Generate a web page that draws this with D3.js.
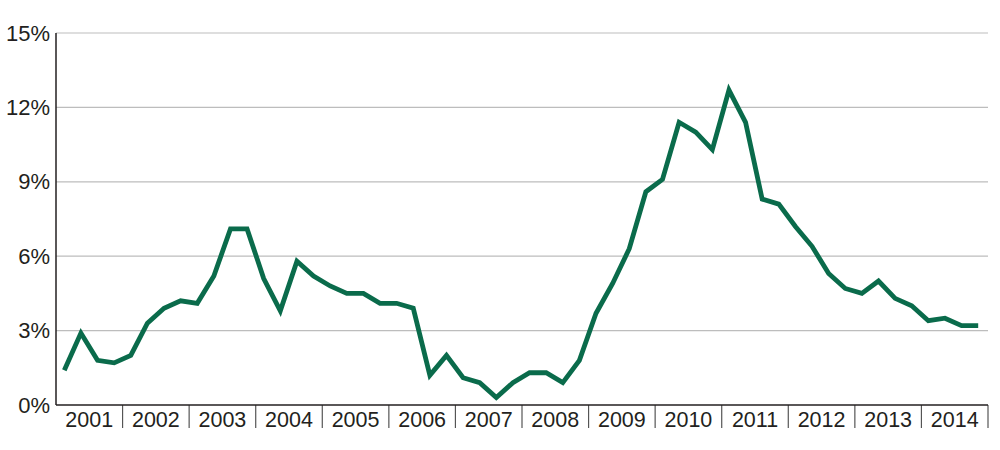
<!DOCTYPE html>
<html><head><meta charset="utf-8">
<script src="https://cdn.jsdelivr.net/npm/d3@7"></script>
<style>body{margin:0;background:#fff}svg{display:block}</style>
</head><body>
<svg id="c" width="1000" height="450"></svg>
<script>
const years = ["2001","2002","2003","2004","2005","2006","2007","2008","2009","2010","2011","2012","2013","2014"];
const yTicks = [0,3,6,9,12,15];
const values = [
 1.4,2.9,1.8,1.7, 2.0,3.3,3.9,4.2, 4.1,5.2,7.1,7.1, 5.1,3.8,5.8,5.2,
 4.8,4.5,4.5,4.1, 4.1,3.9,1.2,2.0, 1.1,0.9,0.3,0.9, 1.3,1.3,0.9,1.8,
 3.7,4.9,6.3,8.6, 9.1,11.4,11.0,10.3, 12.7,11.4,8.3,8.1, 7.2,6.4,5.3,4.7,
 4.5,5.0,4.3,4.0, 3.4,3.5,3.2,3.2
];

const svg = d3.select("#c");
const L = 56, R = 988, T = 33, B = 405;
const y = d3.scaleLinear().domain([0,15]).range([B,T]);
const xb = d3.scaleBand().domain(years).range([L,R]).padding(0);
const xq = d3.scaleLinear().domain([0, values.length]).range([L, R-1.5]);
const font = "'Liberation Sans', Arial, sans-serif";

// gridlines
svg.append("g").selectAll("line").data(yTicks.filter(d=>d>0)).join("line")
  .attr("x1",L).attr("x2",R).attr("y1",d=>y(d)).attr("y2",d=>y(d))
  .attr("stroke","#bdbdbd").attr("stroke-width",1.2);

// y labels
svg.append("g").selectAll("text").data(yTicks).join("text")
  .attr("x",50).attr("y",d=>y(d)+7.5).attr("text-anchor","end")
  .attr("font-family",font).attr("font-size",22).attr("fill","#231f20")
  .text(d=>d+"%");

// year separators
svg.append("g").selectAll("line").data(years).join("line")
  .attr("x1",d=>xb(d)+xb.bandwidth()).attr("x2",d=>xb(d)+xb.bandwidth())
  .attr("y1",B).attr("y2",428).attr("stroke","#555").attr("stroke-width",1.2);

// year labels
svg.append("g").selectAll("text").data(years).join("text")
  .attr("x",d=>xb(d)+xb.bandwidth()/2).attr("y",427).attr("text-anchor","middle")
  .attr("font-family",font).attr("font-size",21.5).attr("fill","#231f20")
  .text(d=>d);

// axes lines
svg.append("line").attr("x1",L).attr("x2",L).attr("y1",T).attr("y2",B)
  .attr("stroke","#231f20").attr("stroke-width",1.5);
svg.append("line").attr("x1",L).attr("x2",R).attr("y1",B).attr("y2",B)
  .attr("stroke","#231f20").attr("stroke-width",1.5);

// line
const line = d3.line().x((d,i)=>xq(i+0.5)).y(d=>y(d));
svg.append("path").datum(values).attr("d",line)
  .attr("fill","none").attr("stroke","#0a6b4b").attr("stroke-width",4.8)
  .attr("stroke-linejoin","miter").attr("stroke-miterlimit",3);
</script>
</body></html>
